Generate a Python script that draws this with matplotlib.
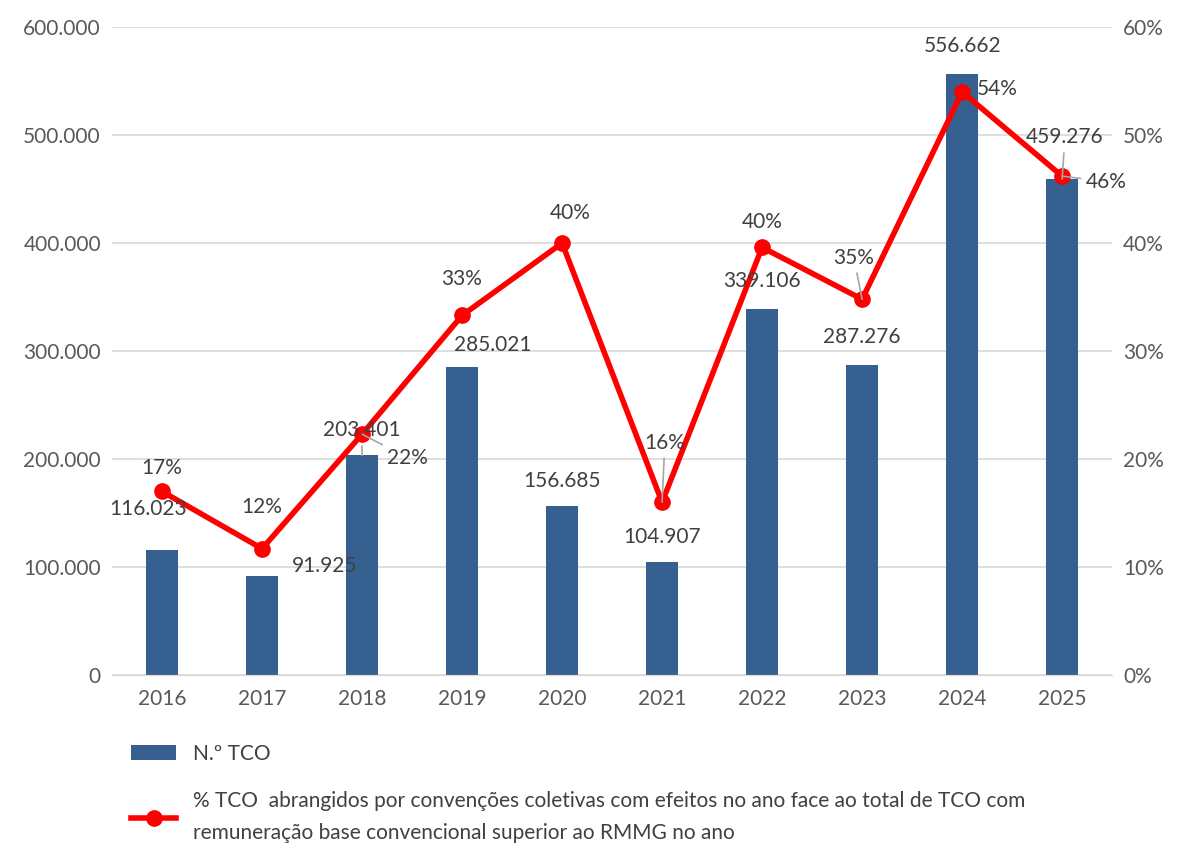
import numpy as np
import matplotlib.pyplot as plt
from matplotlib.ticker import FuncFormatter

plt.rcParams['font.family'] = ['Lato', 'DejaVu Sans']

anos = ['2016', '2017', '2018', '2019', '2020', '2021', '2022', '2023', '2024', '2025']
n_tco = [116023, 91925, 203401, 285021, 156685, 104907, 339106, 287276, 556662, 459276]
pct_tco = [17.0, 11.7, 22.3, 33.3, 40.0, 16.0, 39.6, 34.8, 54.0, 46.2]

lbl_bar = 'N.º TCO'
lbl_line = ('% TCO  abrangidos por convenções coletivas com efeitos no ano face ao total de TCO com\n'
            'remuneração base convencional superior ao RMMG no ano')

# label offsets in points (dx, dy) and whether a leader line is drawn
bar_off = [(-10, 29), (45, 7), (0, 18), (22, 16), (0, 18), (0, 18), (0, 20), (0, 20), (0, 20), (2, 30)]
bar_lead = [False, False, True, False, False, False, False, False, False, True]
pct_off = [(0, 17), (0, 30), (33, -17), (0, 26), (6, 22), (2, 43), (0, 18), (-6, 30), (25, 2), (32, -4)]
pct_lead = [False, False, True, False, False, True, False, True, False, True]

fmt = lambda v: f'{int(v):,}'.replace(',', '.')

fig = plt.figure(figsize=(11.78, 8.48), dpi=100)
ax = fig.add_axes([0.0951, 0.204, 0.849, 0.764])
ax2 = ax.twinx()

x = np.arange(len(anos))
ax.bar(x, n_tco, width=0.32, color='#36608f', zorder=2, label=lbl_bar)
ax.set_xlim(-0.5, len(anos) - 0.5)
ax.set_ylim(0, 600000)
ax.set_yticks(np.arange(0, 600001, 100000))
ax.yaxis.set_major_formatter(FuncFormatter(lambda v, p: fmt(v)))
ax.set_xticks(x)
ax.set_xticklabels(anos)
ax.grid(axis='y', color='#d9d9d9', lw=1.2, zorder=0)
ax.set_axisbelow(True)

ax2.plot(x, pct_tco, color='#ff0000', lw=4, marker='o', ms=11, zorder=3, label=lbl_line)
ax2.set_ylim(0, 60)
ax2.set_yticks(np.arange(0, 61, 10))
ax2.yaxis.set_major_formatter(FuncFormatter(lambda v, p: f'{int(v)}%'))

for a in (ax, ax2):
    for s in ('left', 'right', 'top'):
        a.spines[s].set_visible(False)
    a.spines['bottom'].set_color('#d9d9d9')
    a.tick_params(length=0, labelsize=15, labelcolor='#595959', pad=8)
ax.tick_params(axis='x', pad=10)

# all data labels sit on ax2 so they are drawn above the line
lead = dict(arrowstyle='-', color='#a6a6a6', lw=1.2, shrinkA=2, shrinkB=0)
for i in range(len(anos)):
    ax2.annotate(fmt(n_tco[i]), (x[i], n_tco[i]), xycoords=ax.transData,
                 xytext=bar_off[i], textcoords='offset points',
                 ha='center', va='center', fontsize=15, color='#404040', zorder=5,
                 arrowprops=lead if bar_lead[i] else None)
    ax2.annotate(f'{pct_tco[i]:.0f}%', (x[i], pct_tco[i]), xytext=pct_off[i], textcoords='offset points',
                 ha='center', va='center', fontsize=15, color='#404040', zorder=5,
                 arrowprops=lead if pct_lead[i] else None)

h1, l1 = ax.get_legend_handles_labels()
h2, l2 = ax2.get_legend_handles_labels()
leg = fig.legend(h1 + h2, l1 + l2, loc='upper left', bbox_to_anchor=(0.095, 0.145), frameon=False,
                 fontsize=15, labelcolor='#404040', labelspacing=1.3, handlelength=2.2, handletextpad=0.8)
for t in leg.get_texts():
    t.set_linespacing(1.75)

fig.savefig('out.png', dpi=100)
